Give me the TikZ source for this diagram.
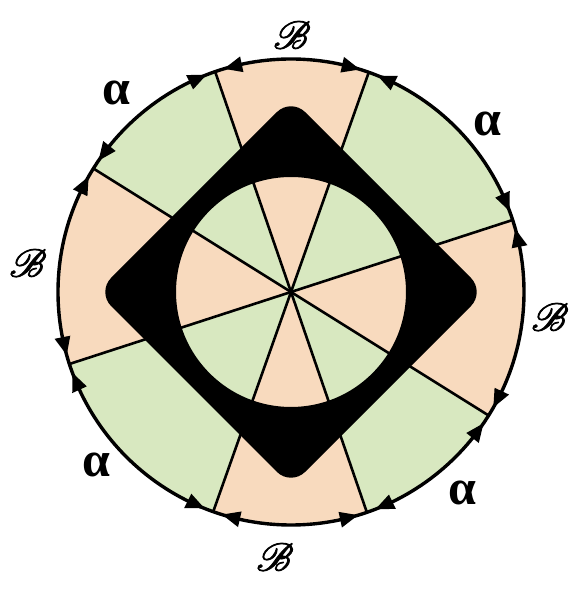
\documentclass[tikz,border=0pt]{standalone}
\usepackage{fontspec}
\usepackage{mathrsfs}
\newfontfamily\grk{Liberation Serif}
\definecolor{peach}{RGB}{248,218,190}
\definecolor{leaf}{RGB}{216,232,192}
\newcommand{\heavyB}{\special{pdf:literal 2 Tr 0.22 w}$\mathscr{B}$\special{pdf:literal 0 Tr}}
\tikzset{
  spoke/.style={line width=2.6pt, black},
  rim/.style={line width=3.4pt, black},
  albl/.style={font=\grk\bfseries\fontsize{50}{50}\selectfont, inner sep=0pt},
  blbl/.style={scale=3.9, inner sep=0pt}
}
\begin{document}
\begin{tikzpicture}[x=1pt,y=1pt]
\useasboundingbox (0,0) rectangle (571,589);
\begin{scope}[shift={(291,297)}]
  \foreach \a/\b/\c in {18/70.5/leaf, 70.5/109/peach, 109/148/leaf, 148/198/peach,
                        198/250.5/leaf, 250.5/289/peach, 289/328/leaf, 328/378/peach}
    \fill[\c] (0,0) -- (\a:233) arc[start angle=\a, end angle=\b, radius=233] -- cycle;
  \foreach \a in {18,70.5,109,148}
    \draw[spoke] (\a:233) -- ({\a+180}:233);
  \fill[even odd rule] [rounded corners=20pt] (0,194) -- (194,0) -- (0,-194) -- (-194,0) -- cycle
        [sharp corners] (0,0) circle[radius=115];
  \draw[rim] (0,0) circle[radius=233];
  \foreach \t in {18,70.5,109,148,198,250.5,289,328} {
    \fill ({\t+2.3}:233) -- ({\t+6.8}:241) -- ({\t+6.8}:225) -- cycle;
    \fill ({\t-2.3}:233) -- ({\t-6.8}:241) -- ({\t-6.8}:225) -- cycle;
  }
\end{scope}
\node[blbl] (bt) at (292,554) {\heavyB};
\node[blbl] (bb) at (275,32) {\heavyB};
\node[blbl] (bl) at (28,326) {\heavyB};
\node[blbl] (br) at (550,272) {\heavyB};
\node[albl] (atl) at (116,496) {α};
\node[albl] (atr) at (487,465) {α};
\node[albl] (abl) at (96,124) {α};
\node[albl] (abr) at (462,96) {α};
\end{tikzpicture}
\end{document}
